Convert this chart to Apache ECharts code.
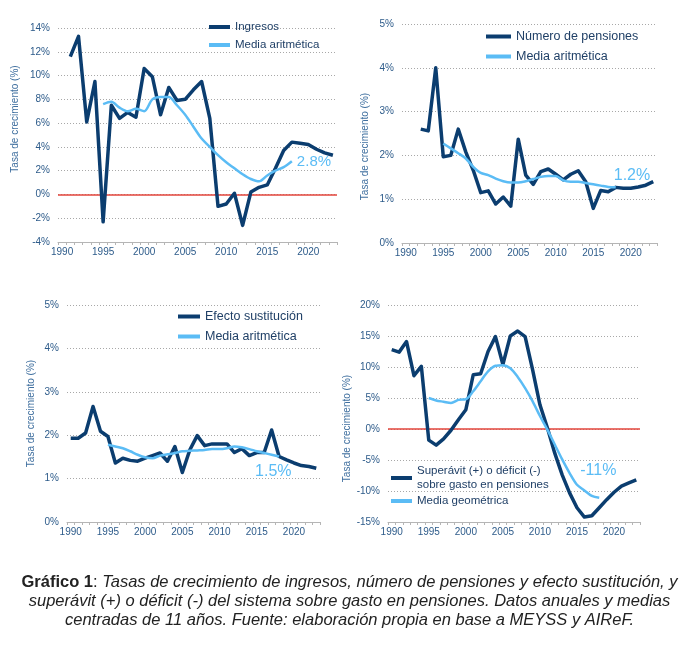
<!DOCTYPE html>
<html>
<head>
<meta charset="utf-8">
<script src="https://cdn.jsdelivr.net/npm/echarts@6/dist/echarts.min.js"></script>
<style>
html,body{margin:0;padding:0;background:#fff;}
#c{width:699px;height:647px;}
</style>
</head>
<body>
<div id="c"></div>
<script>
// ---- data ----
const years = ['1990','1991','1992','1993','1994','1995','1996','1997','1998','1999',
  '2000','2001','2002','2003','2004','2005','2006','2007','2008','2009',
  '2010','2011','2012','2013','2014','2015','2016','2017','2018','2019',
  '2020','2021','2022','2023'];

// annual series (first value's year given separately)
const ingresosStart = 1991;
const ingresos = [11.6, 13.3, 6.1, 9.5, -2.3, 7.5, 6.4, 6.9, 6.5, 10.6, 9.9, 6.7, 9.0, 7.9, 8.0, 8.8, 9.5, 6.4,
  -1.0, -0.8, 0.1, -2.6, 0.2, 0.6, 0.8, 2.2, 3.7, 4.4, 4.3, 4.2, 3.8, 3.5, 3.3];
const pensionesStart = 1992;
const pensiones = [2.6, 2.56, 4.0, 1.97, 2.0, 2.6, 2.08, 1.66, 1.15, 1.19, 0.89, 1.05, 0.84, 2.37, 1.55, 1.34,
  1.63, 1.69, 1.57, 1.44, 1.57, 1.65, 1.40, 0.79, 1.2, 1.17, 1.27, 1.25, 1.25, 1.28, 1.32, 1.40];
const sustitucionStart = 1990;
const sustitucion = [1.93, 1.93, 2.05, 2.66, 2.09, 1.97, 1.36, 1.47, 1.42, 1.40, 1.47, 1.53, 1.59, 1.40, 1.74,
  1.14, 1.66, 1.99, 1.76, 1.80, 1.80, 1.80, 1.60, 1.69, 1.53, 1.60, 1.60, 2.12, 1.51, 1.43, 1.36, 1.30, 1.28, 1.24];
const saldoStart = 1990;
const saldo = [12.8, 12.4, 14.1, 8.6, 10.1, -1.8, -2.6, -1.6, -0.2, 1.5, 3.1, 8.75, 8.9, 12.5, 14.9, 10.4,
  15.0, 15.8, 14.9, 9.6, 3.9, 0.2, -3.9, -7.4, -10.3, -12.7, -14.2, -14.0, -12.7, -11.4, -10.2, -9.2, -8.7, -8.2];

// 11-year centred averages (1995-2018)
const mediaStart = 1995;
const ingresosMedia = [7.6, 7.8, 7.3, 7.0, 7.2, 7.0, 8.0, 8.2, 8.2, 7.5, 6.7, 5.7, 4.7, 4.0, 3.3, 2.7, 2.2, 1.7,
  1.3, 1.1, 1.6, 2.0, 2.3, 2.8];
const pensionesMedia = [2.27, 2.16, 2.05, 1.93, 1.74, 1.6, 1.55, 1.47, 1.41, 1.38, 1.38, 1.41, 1.46, 1.51,
  1.53, 1.53, 1.43, 1.40, 1.40, 1.37, 1.34, 1.31, 1.28, 1.27];
const sustitucionMedia = [1.78, 1.74, 1.70, 1.63, 1.55, 1.49, 1.47, 1.53, 1.56, 1.59, 1.63, 1.64, 1.65, 1.66,
  1.68, 1.68, 1.70, 1.74, 1.72, 1.68, 1.63, 1.59, 1.55, 1.51];
const saldoMedia = [5.0, 4.6, 4.4, 4.2, 4.7, 4.8, 6.1, 7.7, 9.3, 10.2, 10.3, 9.8, 8.4, 6.6, 4.5, 2.1, -0.1,
  -2.5, -4.9, -7.1, -9.0, -9.9, -10.8, -11.1];

const mediaLabels = ['2.8%', '1.2%', '1.5%', '-11%'];

const seriesNames = ['Ingresos', 'Número de pensiones', 'Efecto sustitución',
  'Superávit (+) o déficit (-) sobre gasto en pensiones'];
const mediaNames = ['Media aritmética', 'Media aritmética ', 'Media aritmética  ', 'Media geométrica'];

const yMin = [-4, 0, 0, -15];
const yMax = [14, 5, 5, 20];
const yInterval = [2, 1, 1, 5];

// ---- build ----
const DARK = '#0b3d6f';
const LIGHT = '#5bbcf5';
const LABEL = '#2d5b8a';
const FONT = 'Liberation Sans, Arial, sans-serif';

function pad(arr, start) {
  const out = years.map(() => null);
  const off = start - 1990;
  arr.forEach((v, i) => { out[off + i] = v; });
  return out;
}

const grids = [
  {left: 58, right: 362, top: 28, bottom: 405},
  {left: 402, right: 42, top: 24, bottom: 404},
  {left: 67, right: 379, top: 305, bottom: 125},
  {left: 388, right: 59, top: 305, bottom: 125}
];
const nameGaps = [38, 32, 31, 36];
const namePads = [[0, 0, 0, 32], [0, 26, 0, 0], [0, 0, 0, 0], [0, 30, 0, 0]];
const labelFont = [15, 16, 16, 16];
const labelOffset = [[0, 1], [-7, -12], [-29, 15], [-24, -27]];

const xAxis = grids.map((g, i) => ({
  type: 'category', gridIndex: i, data: years, boundaryGap: true,
  axisLine: {onZero: false, lineStyle: {color: '#b5b5b5', width: 1}},
  axisTick: {show: true, interval: 0, length: 3, lineStyle: {color: '#b5b5b5'}},
  axisLabel: {interval: 4, color: LABEL, fontSize: 10, fontFamily: FONT, margin: 5},
  splitLine: {show: false}
}));
const yAxis = grids.map((g, i) => ({
  type: 'value', gridIndex: i, min: yMin[i], max: yMax[i], interval: yInterval[i],
  name: 'Tasa de crecimiento (%)', nameLocation: 'middle', nameGap: nameGaps[i],
  nameTextStyle: {color: '#3f6f9f', fontSize: 10, fontFamily: FONT, padding: namePads[i]},
  axisLine: {show: false}, axisTick: {show: false},
  axisLabel: {formatter: '{value}%', color: LABEL, fontSize: 10, fontFamily: FONT, margin: 8},
  splitLine: {show: true, lineStyle: {color: '#a8a8a8', type: [1, 2], width: 1}}
}));

const mainData = [pad(ingresos, ingresosStart), pad(pensiones, pensionesStart),
  pad(sustitucion, sustitucionStart), pad(saldo, saldoStart)];
const mediaArrays = [ingresosMedia, pensionesMedia, sustitucionMedia, saldoMedia];

const series = [];
for (let i = 0; i < 4; i++) {
  const main = {
    name: seriesNames[i], type: 'line', xAxisIndex: i, yAxisIndex: i,
    data: mainData[i], symbol: 'none', connectNulls: false, z: 3,
    lineStyle: {color: DARK, width: 3.5, join: 'round', cap: 'butt'}, itemStyle: {color: DARK}
  };
  if (i === 0 || i === 3) {
    main.markLine = {
      silent: true, symbol: ['none', 'none'], label: {show: false},
      lineStyle: {color: '#e3453b', width: 1.5, type: 'solid'},
      data: [{yAxis: 0}], z: 1
    };
  }
  series.push(main);
  series.push({
    name: mediaNames[i], type: 'line', xAxisIndex: i, yAxisIndex: i,
    data: pad(mediaArrays[i], mediaStart), symbol: 'none', smooth: 0.3, z: 4,
    lineStyle: {color: LIGHT, width: 2.5, join: 'round'}, itemStyle: {color: LIGHT},
    endLabel: {show: true, formatter: mediaLabels[i], color: LIGHT, fontSize: labelFont[i],
      fontFamily: FONT, distance: 5, offset: labelOffset[i]}
  });
}

const legendBase = {
  orient: 'vertical', icon: 'rect', itemWidth: 21, itemHeight: 4,
  textStyle: {color: '#1f3f66', fontFamily: FONT}
};
const legends = [
  Object.assign({}, legendBase, {left: 204, top: 16, itemGap: 6, data: [seriesNames[0], mediaNames[0]],
    textStyle: {color: '#1f3f66', fontFamily: FONT, fontSize: 11.5}}),
  Object.assign({}, legendBase, {left: 481, top: 25, itemGap: 7, itemWidth: 25, data: [seriesNames[1], mediaNames[1]],
    textStyle: {color: '#1f3f66', fontFamily: FONT, fontSize: 12.5}}),
  Object.assign({}, legendBase, {left: 173, top: 305, itemGap: 7, itemWidth: 22, data: [seriesNames[2], mediaNames[2]],
    textStyle: {color: '#1f3f66', fontFamily: FONT, fontSize: 12.5}}),
  Object.assign({}, legendBase, {left: 386, top: 459, itemGap: 2,
    data: [seriesNames[3], mediaNames[3]],
    formatter: (n) => n.replace(') sobre', ')\nsobre'),
    textStyle: {color: '#1f3f66', fontFamily: FONT, fontSize: 11.5, lineHeight: 14}})
];

const CAP = 16.5;
const capStyle = {fontFamily: FONT, fontSize: CAP, color: '#222', fontStyle: 'italic', fontWeight: 'normal'};
const option = {
  animation: false,
  textStyle: {fontFamily: FONT},
  grid: grids,
  xAxis: xAxis,
  yAxis: yAxis,
  legend: legends,
  series: series,
  title: [
    {left: 'center', top: 569, text: '{b|Gráfico 1}{n|:} Tasas de crecimiento de ingresos, número de pensiones y efecto sustitución, y',
      textStyle: Object.assign({}, capStyle, {rich: {
        b: {fontFamily: FONT, fontSize: CAP, fontWeight: 'bold', fontStyle: 'normal', color: '#222'},
        n: {fontFamily: FONT, fontSize: CAP, fontWeight: 'normal', fontStyle: 'normal', color: '#222'}}})},
    {left: 'center', top: 588, text: 'superávit (+) o déficit (-) del sistema sobre gasto en pensiones. Datos anuales y medias',
      textStyle: capStyle},
    {left: 'center', top: 607, text: 'centradas de 11 años. Fuente: elaboración propia en base a MEYSS y AIReF.',
      textStyle: capStyle}
  ]
};

const chart = echarts.init(document.getElementById('c'), null, {renderer: 'canvas'});
chart.setOption(option);
</script>
</body>
</html>
